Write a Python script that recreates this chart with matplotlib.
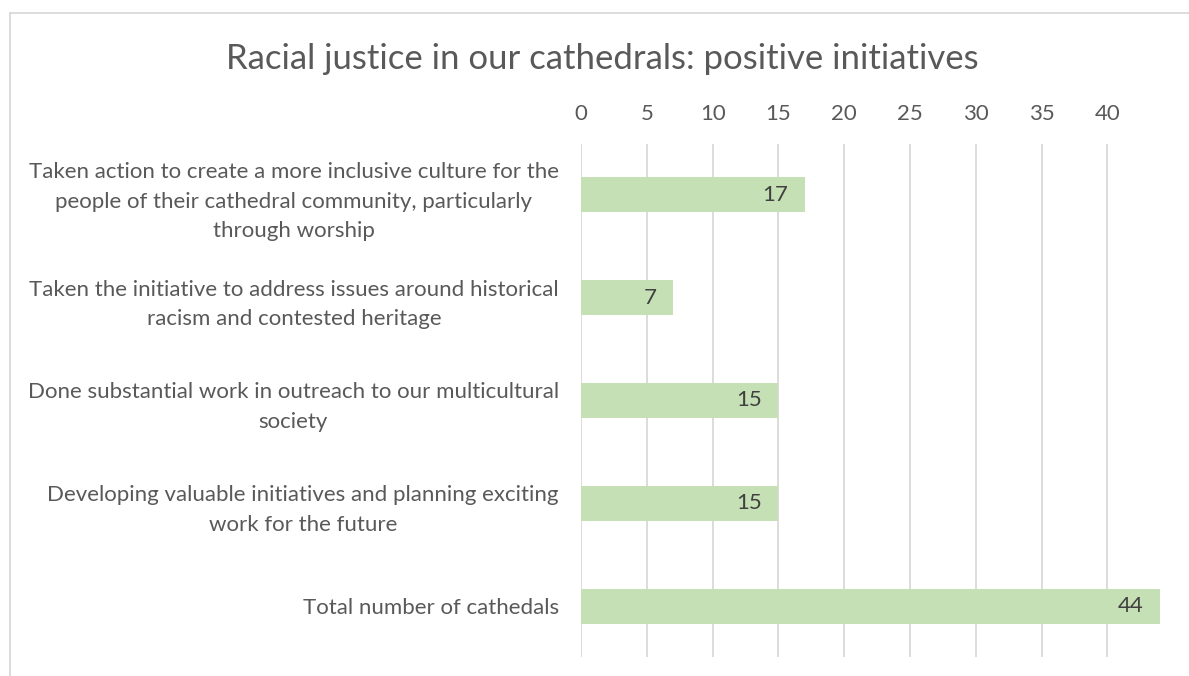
import matplotlib.pyplot as plt
from matplotlib.lines import Line2D

plt.rcParams['font.family'] = ['Lato', 'DejaVu Sans']

categories = [
    'Taken action to create a more inclusive culture for the\n'
    'people of their cathedral community, particularly\n'
    'through worship',
    'Taken the initiative to address issues around historical\n'
    'racism and contested heritage',
    'Done substantial work in outreach to our multicultural\n'
    'society',
    'Developing valuable initiatives and planning exciting\n'
    'work for the future',
    'Total number of cathedals',
]
values = [17, 7, 15, 15, 44]
xticks = [0, 5, 10, 15, 20, 25, 30, 35, 40]

text_col = '#595959'

fig = plt.figure(figsize=(11.89, 6.76), dpi=100)
ax = fig.add_axes([0.4887, 0.0274, 0.9823 - 0.4887, 0.7877 - 0.0274])

pos = list(range(len(values)))
ax.barh(pos, values, height=0.34, color='#C5E0B4', zorder=2)
for y, v in zip(pos, values):
    ax.annotate(str(v), (v, y), xytext=(-12, 0), textcoords='offset points',
                ha='right', va='center', fontsize=16, color='#404040', zorder=3)

ax.set_ylim(len(values) - 0.5, -0.5)
ax.set_xlim(0, 44.6)
ax.set_xticks(xticks)
ax.xaxis.tick_top()
ax.tick_params(axis='x', length=0, labelsize=16, labelcolor=text_col, pad=14)
ax.tick_params(axis='y', length=0, labelsize=16, labelcolor=text_col, pad=16)
ax.set_yticks(pos)
ax.set_yticklabels(categories, multialignment='center', linespacing=1.6)
ax.grid(axis='x', color='#D9D9D9', linewidth=1.3, zorder=0)
for s in ax.spines.values():
    s.set_visible(False)

fig.text(0.5063, 0.913, 'Racial justice in our cathedrals: positive initiatives',
         ha='center', va='center', fontsize=25, color=text_col)

# chart area border (left and top edges visible)
fig.add_artist(Line2D([10 / 1189, 10 / 1189], [0, 1 - 13 / 676],
                      transform=fig.transFigure, color='#D9D9D9', linewidth=1.3))
fig.add_artist(Line2D([10 / 1189, 1], [1 - 13 / 676, 1 - 13 / 676],
                      transform=fig.transFigure, color='#D9D9D9', linewidth=1.3))

fig.savefig('out.png', dpi=100)
